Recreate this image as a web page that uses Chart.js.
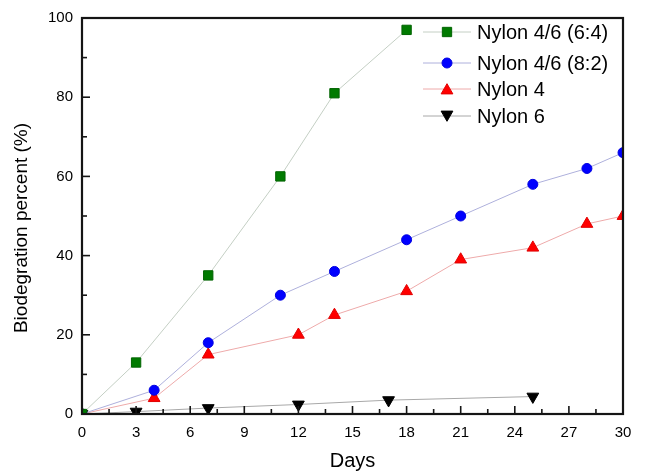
<!DOCTYPE html>
<html><head><meta charset="utf-8">
<script src="https://cdn.jsdelivr.net/npm/chart.js@4.4.0/dist/chart.umd.min.js"></script>
<style>html,body{margin:0;padding:0;background:#fff;} #wrap{width:645px;height:474px;}</style>
</head><body>
<div id="wrap"><canvas id="c" width="645" height="474"></canvas></div>
<script>
// ---- data ----
const seriesNames = ['Nylon 4/6 (6:4)', 'Nylon 4/6 (8:2)', 'Nylon 4', 'Nylon 6'];
const days64 = [0, 3, 7, 11, 14, 18];
const vals64 = [0, 13, 35, 60, 81, 97];
const days82 = [0, 4, 7, 11, 14, 18, 21, 25, 28, 30];
const vals82 = [0, 6, 18, 30, 36, 44, 50, 58, 62, 66];
const days4  = [0, 4, 7, 12, 14, 18, 21, 25, 28, 30];
const vals4  = [0, 4, 15, 20, 25, 31, 39, 42, 48, 50];
const days6  = [0, 3, 7, 12, 17, 25];
const vals6  = [0, 0.6, 1.5, 2.4, 3.5, 4.4];
const xTickValues = [0, 3, 6, 9, 12, 15, 18, 21, 24, 27, 30];
const yTickValues = [0, 20, 40, 60, 80, 100];
const xTitle = 'Days';
const yTitle = 'Biodegration percent (%)';

const FONT = '"Liberation Sans", Arial, sans-serif';
function pts(xs, ys) { return xs.map((x, i) => ({ x: x, y: ys[i] })); }

const datasets = [
  { label: seriesNames[0], data: pts(days64, vals64), borderColor: '#c4cfc4', backgroundColor: '#007a00',
    pointBorderColor: '#006400', pointStyle: 'rect', pointRadius: 6.6, pointRotation: 0 },
  { label: seriesNames[1], data: pts(days82, vals82), borderColor: '#aeb0dc', backgroundColor: '#0000ff',
    pointBorderColor: '#0000e0', pointStyle: 'circle', pointRadius: 5, pointRotation: 0 },
  { label: seriesNames[2], data: pts(days4, vals4), borderColor: '#eeaaaa', backgroundColor: '#ff0000',
    pointBorderColor: '#e00000', pointStyle: 'triangle', pointRadius: 6.8, pointRotation: 0 },
  { label: seriesNames[3], data: pts(days6, vals6), borderColor: '#a8a8a8', backgroundColor: '#000000',
    pointBorderColor: '#000000', pointStyle: 'triangle', pointRadius: 6.8, pointRotation: 180 }
].map(d => Object.assign(d, { borderWidth: 1, pointBorderWidth: 1, pointBackgroundColor: d.backgroundColor,
  pointHoverRadius: d.pointRadius, tension: 0, fill: false }));

function drawMarker(ctx, style, r, rot, x, y) {
  ctx.beginPath();
  if (style === 'rect') {
    const s = Math.SQRT1_2 * r;
    ctx.rect(x - s, y - s, 2 * s, 2 * s);
  } else if (style === 'circle') {
    ctx.arc(x, y, r, 0, Math.PI * 2);
  } else {
    let a = rot * Math.PI / 180;
    ctx.moveTo(x + Math.sin(a) * r, y - Math.cos(a) * r);
    a += 2 * Math.PI / 3;
    ctx.lineTo(x + Math.sin(a) * r, y - Math.cos(a) * r);
    a += 2 * Math.PI / 3;
    ctx.lineTo(x + Math.sin(a) * r, y - Math.cos(a) * r);
    ctx.closePath();
  }
  ctx.fill();
  ctx.stroke();
}

const framePlugin = {
  id: 'frameTicks',
  afterDraw(chart) {
    const ctx = chart.ctx, a = chart.chartArea;
    const xs = chart.scales.x, ys = chart.scales.y;
    ctx.save();
    ctx.strokeStyle = '#151515';
    ctx.lineWidth = 1.6;
    // inward ticks on bottom axis: major every 3, minor halfway
    for (let i = 0; i < xTickValues.length; i++) {
      const px = xs.getPixelForValue(xTickValues[i]);
      ctx.beginPath(); ctx.moveTo(px, a.bottom); ctx.lineTo(px, a.bottom - 8); ctx.stroke();
      if (i < xTickValues.length - 1) {
        const pm = xs.getPixelForValue((xTickValues[i] + xTickValues[i + 1]) / 2);
        ctx.beginPath(); ctx.moveTo(pm, a.bottom); ctx.lineTo(pm, a.bottom - 5); ctx.stroke();
      }
    }
    for (let i = 0; i < yTickValues.length; i++) {
      const py = ys.getPixelForValue(yTickValues[i]);
      ctx.beginPath(); ctx.moveTo(a.left, py); ctx.lineTo(a.left + 8, py); ctx.stroke();
      if (i < yTickValues.length - 1) {
        const pm = ys.getPixelForValue((yTickValues[i] + yTickValues[i + 1]) / 2);
        ctx.beginPath(); ctx.moveTo(a.left, pm); ctx.lineTo(a.left + 5, pm); ctx.stroke();
      }
    }
    ctx.lineWidth = 2.2;
    ctx.strokeRect(a.left, a.top, a.right - a.left, a.bottom - a.top);
    ctx.restore();

    // y-axis title
    ctx.save();
    ctx.translate(22, 228);
    ctx.rotate(-Math.PI / 2);
    ctx.fillStyle = '#000';
    ctx.font = '19px ' + FONT;
    ctx.textAlign = 'center';
    ctx.textBaseline = 'middle';
    ctx.fillText(yTitle, 0, 0);
    ctx.restore();

    // legend inside plot
    const rows = [32, 63, 89, 116];
    chart.data.datasets.forEach((ds, i) => {
      const y = rows[i];
      ctx.save();
      ctx.strokeStyle = ds.borderColor; ctx.lineWidth = 1;
      ctx.beginPath(); ctx.moveTo(423, y); ctx.lineTo(471, y); ctx.stroke();
      ctx.fillStyle = ds.pointBackgroundColor; ctx.strokeStyle = ds.pointBorderColor;
      const ry = ds.pointStyle === 'triangle' ? y + (ds.pointRotation ? -1.5 : 1.5) : y;
      drawMarker(ctx, ds.pointStyle, ds.pointRadius, ds.pointRotation, 447, ry);
      ctx.fillStyle = '#000';
      ctx.font = '20px ' + FONT;
      ctx.textBaseline = 'middle';
      ctx.textAlign = 'left';
      ctx.fillText(ds.label, 477, y + 1);
      ctx.restore();
    });
  }
};

new Chart(document.getElementById('c'), {
  type: 'line',
  data: { datasets: datasets },
  plugins: [framePlugin],
  options: {
    responsive: false,
    animation: false,
    devicePixelRatio: 1,
    layout: { padding: { top: 15, right: 22, left: 0, bottom: 0 } },
    plugins: { legend: { display: false }, tooltip: { enabled: false } },
    scales: {
      x: {
        type: 'linear', min: 0, max: 30,
        afterBuildTicks: (s) => { s.ticks = xTickValues.map(v => ({ value: v })); },
        afterFit: (s) => { s.height = 60; },
        grid: { display: false, drawTicks: false },
        border: { display: false },
        ticks: { color: '#000', padding: 10, font: { family: FONT, size: 15 }, maxRotation: 0, autoSkip: false },
        title: { display: true, text: xTitle, color: '#000', font: { family: FONT, size: 20 }, padding: { top: 0, bottom: 1 } }
      },
      y: {
        type: 'linear', min: 0, max: 100,
        afterBuildTicks: (s) => { s.ticks = yTickValues.map(v => ({ value: v })); },
        afterFit: (s) => { s.width = 82; },
        grid: { display: false, drawTicks: false },
        border: { display: false },
        ticks: { color: '#000', padding: 9, font: { family: FONT, size: 15 }, autoSkip: false },
        title: { display: false }
      }
    }
  }
});
</script>
</body></html>
